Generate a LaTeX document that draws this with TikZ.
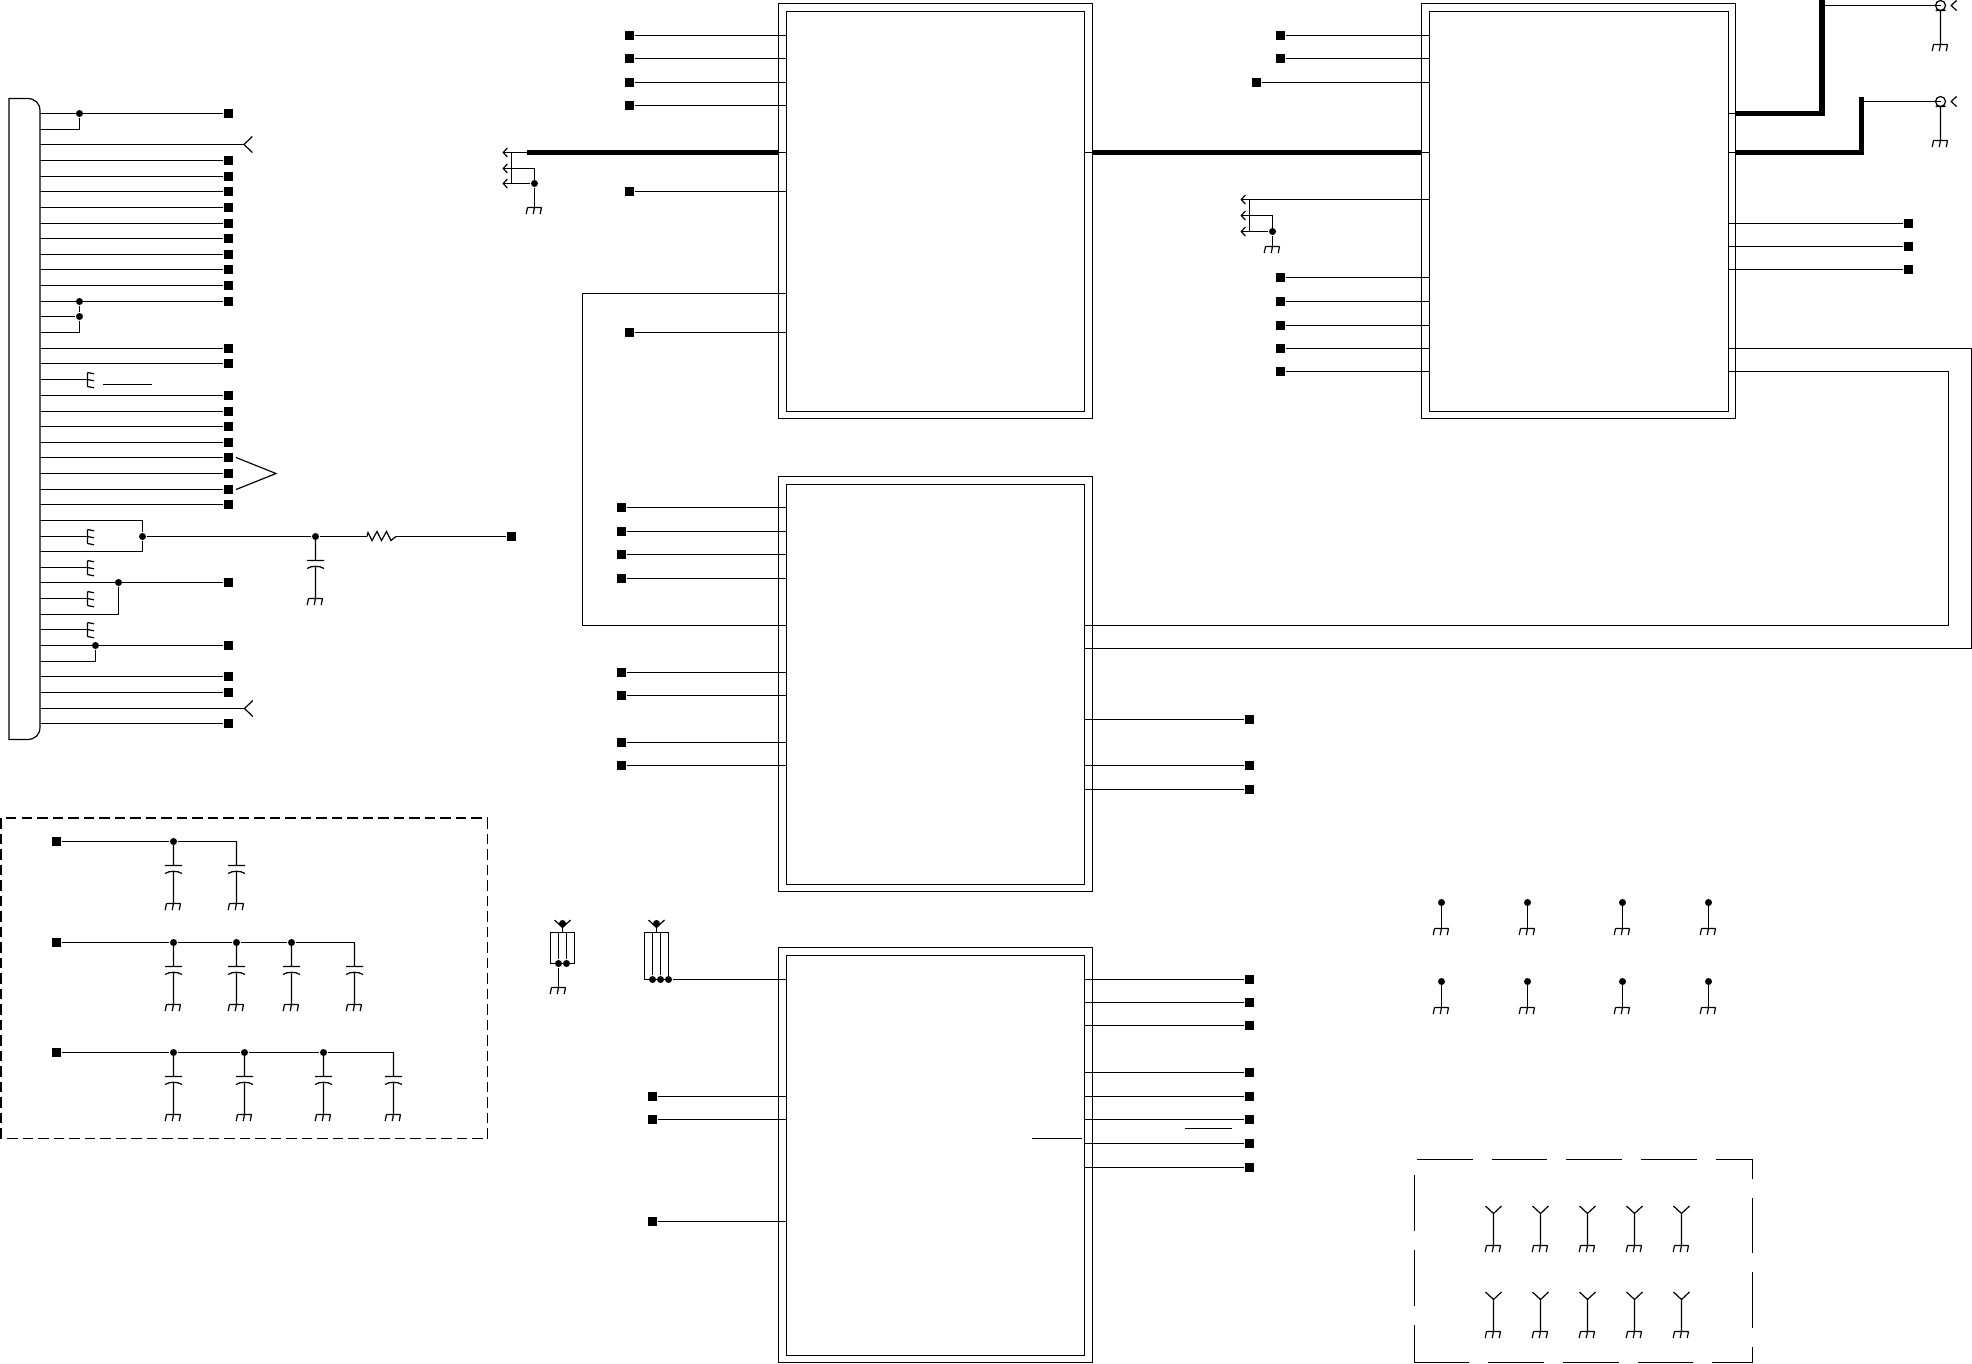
\documentclass[tikz,border=0pt]{standalone}
\usetikzlibrary{arrows.meta}

\begin{document}
\begin{tikzpicture}[x=1pt, y=-1pt, line width=1.2pt, >={Straight Barb[length=4pt,width=9pt]}]
\tikzset{
term/.style     = {shape=rectangle, fill=black, inner sep=0pt, minimum size=9pt},
dot/.style      = {shape=circle, fill=black, inner sep=0pt, minimum size=7pt},
coord/.style    = {coordinate},
chipbox/.style  = {draw, shape=rectangle, outer sep=0pt, inner sep=0pt, minimum width=314pt, minimum height=415pt},
chipcore/.style = {draw, shape=rectangle, outer sep=0pt, inner sep=0pt, minimum width=298pt, minimum height=400pt},
jumper/.style   = {draw, shape=rectangle, outer sep=0pt, inner sep=0pt},
bus/.style      = {line width=5.5pt},
gnd/.pic        = {\draw (-7,0) -- (7,0) (-7,0) -- (-8.3,6.5) (0,0) -- (-1.3,6.5) (7,0) -- (5.7,6.5);},
rake/.pic       = {\draw (0,-7) -- (0,7) (0,-7) -- (6.5,-5.7) (0,0) -- (6.5,1.3) (0,7) -- (6.5,8.3);},
capgnd/.pic     = {\draw (0,0) -- (0,24) (-8.5,24) -- (8.5,24) (-8.5,32) .. controls (-4,29) and (4,29) .. (8.5,32) (0,29.5) -- (0,62);
                   \pic at (0,62) {gnd};},
antgnd/.pic     = {\draw (0,0) -- (0,32) (-8,-7.5) -- (0,0) -- (8,-7.5);
                   \pic at (0,32) {gnd};},
tiegnd/.pic     = {\draw (0,0) -- (0,26);
                   \pic at (0,26) {gnd};},
fork/.pic       = {\draw (-8,-7.5) -- (0,0) -- (8,-7.5);},
chev/.pic       = {\draw (8.3,-8) -- (0,0) -- (8.3,8);},
coil/.pic       = {\draw (0,0) -- (1,-4) -- (5,4) -- (10,-5) -- (14.5,4) -- (19.5,-5) -- (24,4) -- (29,0);},
coax/.pic       = {\draw (0,0) circle (5) (-5,5) -- (5,5) (0,5) -- (0,39) (16,-5) -- (10.7,0) -- (16,5);
                   \pic at (0,39) {gnd};},
}
    \useasboundingbox (0,0) rectangle (1972,1364);

    % Header nodes
    \coordinate (hdr_edge) at (40,98);
    \draw (9,98.5) -- (27,98.5) .. controls (35,98.5) and (40,103) .. (40,111) -- (40,727) .. controls (40,735) and (35,739.5) .. (27,739.5) -- (9,739.5) -- cycle;
    \foreach \i/\y in {1/113.5, 4/160.5, 5/176.5, 6/191.5, 7/207.5, 8/223.5, 9/238.5, 10/254.5, 11/269.5, 12/285.5,
                       13/301.5, 16/348.5, 17/363.5, 19/395.5, 20/411.5, 21/426.5, 22/442.5, 23/457.5, 24/473.5,
                       25/489.5, 26/504.5, 31/582.5, 35/645.5, 37/676.5, 38/692.5, 40/723.5} {
        \node [term] (hdr_t\i) at (228.5,\y) {};
        \draw (hdr_t\i) -- (hdr_t\i -| hdr_edge);
    }
    \foreach \i/\y in {2/129.5, 3/144.5, 14/316.5, 15/332.5, 18/379.5, 27/520.5, 28/536.5, 29/551.5,
                       30/567.5, 32/598.5, 33/614.5, 34/629.5, 36/661.5, 39/708.5} {
        \coordinate (hdr_p\i) at (40,\y);
    }
    \node [dot]  (hdr_j1)  at (79.5,113.5) {};
    \node [dot]  (hdr_j13) at (79.5,301.5) {};
    \node [dot]  (hdr_j14) at (79.5,316.5) {};
    \node [dot]  (hdr_j28) at (142.5,536.5) {};
    \node [dot]  (hdr_j31) at (118.5,582.5) {};
    \node [dot]  (hdr_j35) at (95.5,645.5) {};
    \node [dot]  (rc_dot)  at (315.5,536.5) {};
    \node [term] (rc_term) at (511.5,536.5) {};
    \node [coord] (rc_a)   at (367,536.5)  {};
    \node [coord] (rc_b)   at (396,536.5)  {};
    \node [coord] (hdr_c3)  at (244,144.5)   {};
    \node [coord] (hdr_c39) at (244.5,708.5) {};
    \foreach \i in {18,28,30,32,34} {
        \coordinate (hdr_r\i) at (hdr_p\i -| 87.5,0);
        \pic at (hdr_r\i) {rake};
    }
    \node [coord] (over_a) at (103,384.5)   {};
    \node [coord] (over_b) at (152,384.5)   {};
    \node [coord] (tri_a)  at (236,457.5) {};
    \node [coord] (tri_b)  at (276,473.5) {};
    \node [coord] (tri_c)  at (236,489.5) {};

    % Header edges
    \draw (hdr_j1)  |- (hdr_p2);
    \draw (hdr_p3)  -- (hdr_c3);
    \draw (hdr_j13) -- (hdr_j14);
    \draw (hdr_p14) -- (hdr_j14);
    \draw (hdr_j14) |- (hdr_p15);
    \draw (hdr_p18) -- (hdr_r18);
    \draw (hdr_p27) -| (hdr_j28);
    \draw (hdr_j28) |- (hdr_p29);
    \draw (hdr_p28) -- (hdr_r28);
    \draw (hdr_j28) -- (rc_dot);
    \draw (rc_dot)  -- (rc_a);
    \draw (rc_b)    -- (rc_term);
    \draw (hdr_p30) -- (hdr_r30);
    \draw (hdr_p32) -- (hdr_r32);
    \draw (hdr_p34) -- (hdr_r34);
    \draw (hdr_j31) |- (hdr_p33);
    \draw (hdr_j35) |- (hdr_p36);
    \draw (hdr_p39) -- (hdr_c39);
    \draw (over_a)  -- (over_b);
    \draw (tri_a)   -- (tri_b) -- (tri_c);
    \pic at (hdr_c3)  {chev};
    \pic at (hdr_c39) {chev};
    \pic at (rc_a)    {coil};
    \pic at (rc_dot)  {capgnd};

    % Decoupling nodes
    \draw [dash pattern=on 10.5pt off 5pt, line width=1.6pt] (1,1138.5) -- (1,818) -- (487,818);
    \draw [dash pattern=on 10.5pt off 5pt, line width=1.4pt] (487.5,818) -- (487.5,1138.5) -- (1,1138.5);
    \node [term] (dec_a) at (56.5,841.5)  {};
    \node [term] (dec_b) at (56.5,942.5)  {};
    \node [term] (dec_c) at (56.5,1052.5) {};
    \node [dot]  (dec_a1) at (173.5,841.5) {};
    \node [coord] (dec_a2) at (236.5,841.5) {};
    \node [dot]  (dec_b1) at (173.5,942.5) {};
    \node [dot]  (dec_b2) at (236.5,942.5) {};
    \node [dot]  (dec_b3) at (291.5,942.5) {};
    \node [coord] (dec_b4) at (354.5,942.5) {};
    \node [dot]  (dec_c1) at (173.5,1052.5) {};
    \node [dot]  (dec_c2) at (244.5,1052.5) {};
    \node [dot]  (dec_c3) at (323.5,1052.5) {};
    \node [coord] (dec_c4) at (393.5,1052.5) {};

    % Decoupling edges
    \draw (dec_a) -- (dec_a1) -- (dec_a2);
    \draw (dec_b) -- (dec_b1) -- (dec_b2) -- (dec_b3) -- (dec_b4);
    \draw (dec_c) -- (dec_c1) -- (dec_c2) -- (dec_c3) -- (dec_c4);
    \foreach \c in {dec_a1,dec_a2,dec_b1,dec_b2,dec_b3,dec_b4,dec_c1,dec_c2,dec_c3,dec_c4} {
        \pic at (\c) {capgnd};
    }

    % Chip nodes
    \node [chipbox]  (chip_a)    at (935.5,211)    {};
    \node [chipcore] (chip_a_in) at (935.5,211.5)  {};
    \node [chipbox]  (chip_b)    at (1578.5,211)   {};
    \node [chipcore, minimum width=299pt] (chip_b_in) at (1579,211.5) {};
    \node [chipbox]  (chip_c)    at (935.5,684)    {};
    \node [chipcore] (chip_c_in) at (935.5,684.5)  {};
    \node [chipbox]  (chip_d)    at (935.5,1155)   {};
    \node [chipcore] (chip_d_in) at (935.5,1155.5) {};

    % Chip A inputs
    \foreach \i/\y in {1/35.5, 2/58.5, 3/82.5, 4/105.5, 5/191.5, 6/332.5} {
        \node [term] (a_t\i) at (629.5,\y) {};
        \draw (a_t\i) -- (a_t\i -| chip_a_in.west);
    }

    % Chip B inputs
    \foreach \i/\y in {1/35.5, 2/58.5, 3/277.5, 4/301.5, 5/325.5, 6/348.5, 7/371.5} {
        \node [term] (b_t\i) at (1280.5,\y) {};
        \draw (b_t\i) -- (b_t\i -| chip_b_in.west);
    }
    \node [term] (b_t8) at (1256.5,82.5) {};
    \draw (b_t8) -- (b_t8 -| chip_b_in.west);

    % Chip B outputs
    \foreach \i/\y in {1/223.5, 2/246.5, 3/269.5} {
        \node [term] (b_o\i) at (1908.5,\y) {};
        \draw (b_o\i) -- (b_o\i -| chip_b_in.east);
    }

    % Chip C inputs
    \foreach \i/\y in {1/507.5, 2/531.5, 3/554.5, 4/578.5, 5/672.5, 6/695.5, 7/742.5, 8/765.5} {
        \node [term] (c_t\i) at (621.5,\y) {};
        \draw (c_t\i) -- (c_t\i -| chip_c_in.west);
    }

    % Chip C outputs
    \foreach \i/\y in {1/719.5, 2/765.5, 3/789.5} {
        \node [term] (c_o\i) at (1249.5,\y) {};
        \draw (c_o\i) -- (c_o\i -| chip_c_in.east);
    }

    % Chip D inputs
    \foreach \i/\y in {1/1096.5, 2/1119.5, 3/1221.5} {
        \node [term] (d_t\i) at (652.5,\y) {};
        \draw (d_t\i) -- (d_t\i -| chip_d_in.west);
    }

    % Chip D outputs
    \foreach \i/\y in {1/979.5, 2/1002.5, 3/1025.5, 4/1072.5, 5/1096.5, 6/1119.5, 7/1143.5, 8/1167.5} {
        \node [term] (d_o\i) at (1249.5,\y) {};
        \draw (d_o\i) -- (d_o\i -| chip_d_in.east);
    }
    \node [coord] (over_c) at (1185,1128.5)   {};
    \node [coord] (over_d) at (1231.5,1128.5) {};
    \node [coord] (over_e) at (1031.5,1138.5) {};
    \node [coord] (over_f) at (1081.5,1138.5) {};
    \draw (over_c) -- (over_d);
    \draw (over_e) -- (over_f);

    % Loop nodes
    \node [coord] (loop_a1) at (chip_a_in.west |- 0,293.5) {};
    \node [coord] (loop_a2) at (chip_c_in.west |- 0,625.5) {};
    \node [coord] (loop_a3) at (582.5,293.5) {};
    \node [coord] (loop_b1) at (chip_b_in.east |- 0,348.5) {};
    \node [coord] (loop_b2) at (1971.5,648.5) {};
    \node [coord] (loop_b3) at (chip_c_in.east |- 0,648.5) {};
    \node [coord] (loop_c1) at (chip_b_in.east |- 0,371.5) {};
    \node [coord] (loop_c2) at (1948.5,625.5) {};
    \node [coord] (loop_c3) at (chip_c_in.east |- 0,625.5) {};

    % Loop edges
    \draw (loop_a1) -- (loop_a3) |- (loop_a2);
    \draw (loop_b1) -| (loop_b2) -- (loop_b3);
    \draw (loop_c1) -| (loop_c2) -- (loop_c3);

    % Bus nodes
    \node [coord] (ab_a) at (527,152.5) {};
    \node [coord] (ab_b) at (chip_a.west |- ab_a) {};
    \node [coord] (ab_c) at (chip_a.east |- ab_a) {};
    \node [coord] (ab_d) at (chip_b.west |- ab_a) {};
    \node [coord] (out_a) at (chip_b.east |- 0,113.5) {};
    \node [coord] (out_b) at (1822,0) {};
    \node [coord] (out_c) at (chip_b.east |- ab_a) {};
    \node [coord] (out_d) at (1861.5,97.5) {};
    \node [coord] (coax_a) at (1940.5,5.5)   {};
    \node [coord] (coax_b) at (1940.5,101.5) {};

    % Bus edges
    \draw [bus] (ab_a) -- (ab_b);
    \draw [bus] (ab_c) -- (ab_d);
    \draw [bus] (out_a) -| (out_b);
    \draw [bus] (out_c) -| (out_d);
    \draw (ab_b) -- (ab_b -| chip_a_in.west);
    \draw (ab_c -| chip_a_in.east) -- (ab_c);
    \draw (ab_d) -- (ab_d -| chip_b_in.west);
    \draw (out_a -| chip_b_in.east) -- (out_a);
    \draw (out_c -| chip_b_in.east) -- (out_c);
    \draw (out_b |- coax_a) -- (coax_a);
    \draw (out_d |- coax_b) -- (coax_b);
    \pic at (coax_a) {coax};
    \pic at (coax_b) {coax};

    % Left return nodes
    \node [coord] (ret_a1) at (502.5,152.5) {};
    \node [coord] (ret_a2) at (502.5,168.5) {};
    \node [coord] (ret_a3) at (502.5,183.5) {};
    \node [coord] (ret_av) at (511.5,152.5) {};
    \node [dot]   (ret_ad) at (534.5,183.5) {};
    \node [coord] (ret_ag) at (534.5,207.5) {};

    % Left return edges
    \draw [->] (ab_a)   -- (ret_a1);
    \draw [->] (ret_ad.center) |- (ret_a2);
    \draw [->] (ret_ad) -- (ret_a3);
    \draw (ret_av) -- (ret_av |- ret_a3);
    \draw (ret_ad) -- (ret_ag);
    \pic at (ret_ag) {gnd};

    % Right return nodes
    \node [coord] (ret_b1) at (1240.5,199.5) {};
    \node [coord] (ret_b2) at (1240.5,215.5) {};
    \node [coord] (ret_b3) at (1240.5,231.5) {};
    \node [coord] (ret_bv) at (1249.5,199.5) {};
    \node [dot]   (ret_bd) at (1272.5,231.5) {};
    \node [coord] (ret_bg) at (1272.5,246.5) {};

    % Right return edges
    \draw [->] (ret_b1 -| chip_b_in.west) -- (ret_b1);
    \draw [->] (ret_bd.center) |- (ret_b2);
    \draw [->] (ret_bd) -- (ret_b3);
    \draw (ret_bv) -- (ret_bv |- ret_b3);
    \draw (ret_bd) -- (ret_bg);
    \pic at (ret_bg) {gnd};

    % Jumper nodes
    \node [jumper, minimum width=24pt, minimum height=31pt] (jmp_a) at (562.5,948) {};
    \node [jumper, minimum width=24pt, minimum height=47pt] (jmp_b) at (656.5,956) {};
    \node [dot] (jmp_a1) at (558.5,963.5) {};
    \node [dot] (jmp_a2) at (566.5,963.5) {};
    \node [dot] (jmp_b1) at (652.5,979.5) {};
    \node [dot] (jmp_b2) at (660.5,979.5) {};
    \node [dot] (jmp_b3) at (668.5,979.5) {};
    \node [dot] (jmp_at) at (562.5,923.5) {};
    \node [dot] (jmp_bt) at (656.5,923.5) {};
    \node [coord] (jmp_ag) at (558.5,987.5) {};

    % Jumper edges
    \draw (jmp_a1) -- (jmp_a1 |- jmp_a.north);
    \draw (jmp_a2) -- (jmp_a2 |- jmp_a.north);
    \draw (jmp_b1) -- (jmp_b1 |- jmp_b.north);
    \draw (jmp_b2) -- (jmp_b2 |- jmp_b.north);
    \draw (jmp_a1) -- (jmp_ag);
    \draw (jmp_b3) -- (jmp_b3 -| chip_d_in.west);
    \draw (jmp_at) -- (jmp_at |- jmp_a.north);
    \draw (jmp_bt) -- (jmp_bt |- jmp_b.north);
    \pic at (562.5,927.5) {fork};
    \pic at (656.5,927.5) {fork};
    \pic at (jmp_ag) {gnd};

    % Tie points
    \foreach \x/\i in {1441.5/1,1527.5/2,1622.5/3,1708.5/4} {
        \foreach \y/\j in {902.5/1,981.5/2} {
            \node [dot] (tie_\i_\j) at (\x,\y) {};
            \pic at (tie_\i_\j) {tiegnd};
        }
    }

    % Spare antennas
    \draw [dash pattern=on 55.7pt off 19pt] (1417,1159.5) -| (1752.5,1362.5) -- (1414.5,1362.5);
    \draw [dash pattern=on 55.7pt off 19pt, dash phase=17.7pt] (1414.5,1362.5) -- (1414.5,1175);
    \foreach \x in {1493.5,1540.5,1587.5,1634.5,1681.5} {
        \pic at (\x,1213.5) {antgnd};
        \pic at (\x,1299.5) {antgnd};
    }

\end{tikzpicture}
\end{document}
